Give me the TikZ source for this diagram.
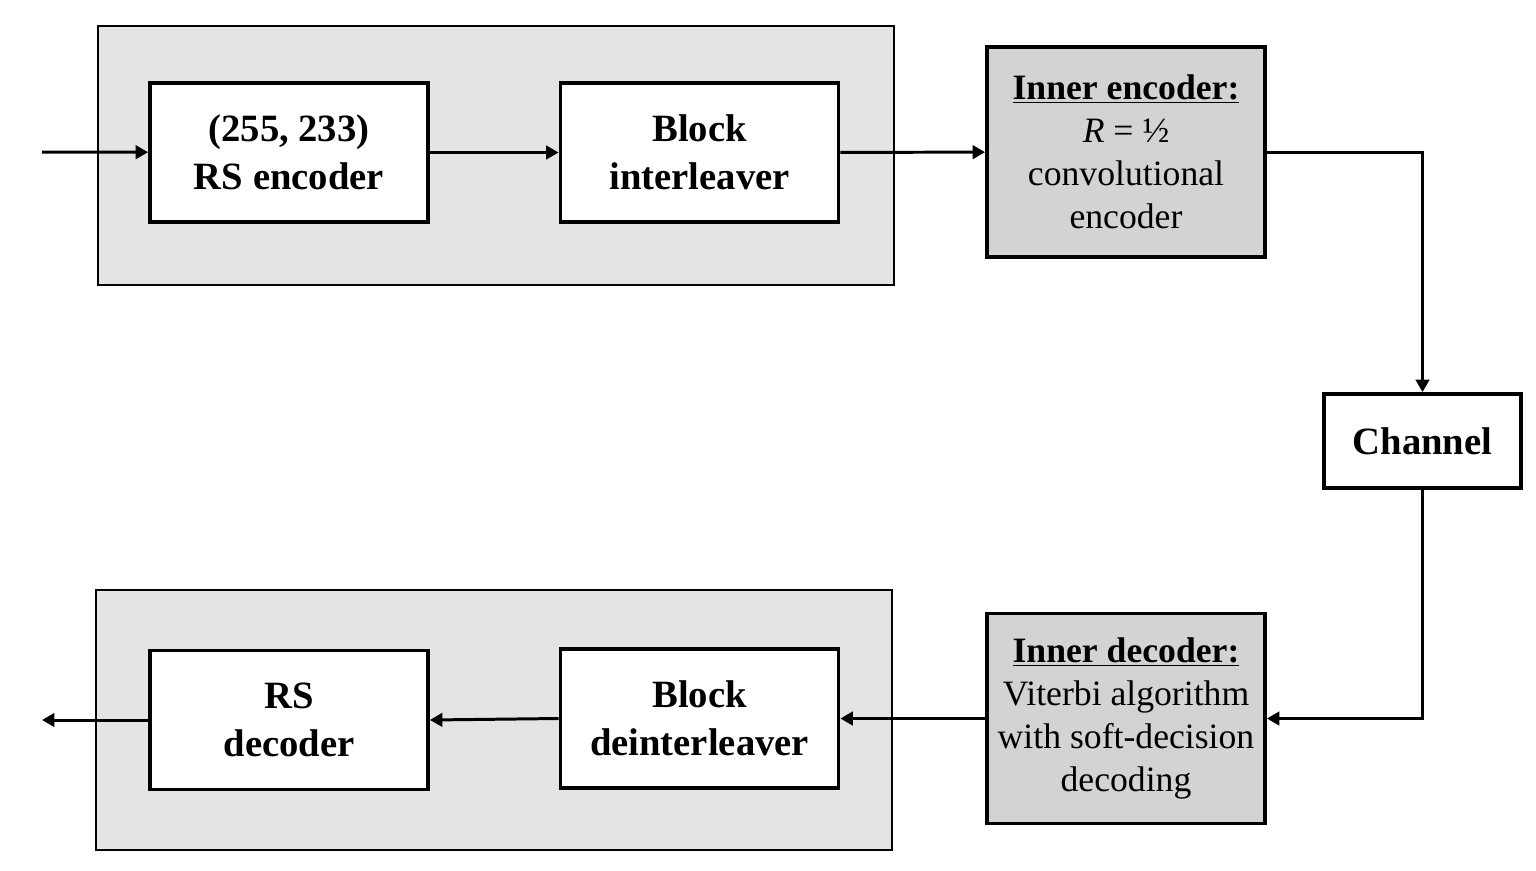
\documentclass[tikz,border=0pt]{standalone}
\usepackage{fontspec}
\setmainfont{Liberation Serif}
\usetikzlibrary{arrows.meta}
\definecolor{groupgray}{HTML}{E4E4E4}
\definecolor{innergray}{HTML}{D3D3D3}
\begin{document}
\begin{tikzpicture}[x=0.02cm,y=-0.02cm,
  blk/.style={draw,line width=2.2pt,fill=white,minimum width=5.56cm,minimum height=2.78cm,
    align=center,inner sep=0pt,font=\fontsize{22}{27.5}\selectfont\bfseries},
  innerblk/.style={blk,fill=innergray,minimum height=4.2cm,font=\fontsize{20.3}{24.5}\selectfont},
  groupbox/.style={draw,line width=0.8pt,fill=groupgray},
  conn/.style={line width=1.7pt,-{Triangle[length=0.25cm,width=0.27cm]}}]
\useasboundingbox (0,0) rectangle (1536,870);
% grey groups
\draw [groupbox] (98,26) rectangle (894,285);
\draw [groupbox] (96,590) rectangle (892,850);
% top row
\coordinate (in) at (42,152);
\node [blk] (rsenc) at (289,152.5) {(255, 233)\\RS encoder};
\node [blk] (intl) at (699.5,152.5) {Block\\interleaver};
\node [innerblk] (innenc) at (1126,152) {\textbf{\underline{Inner encoder:}}\\\textit{R} = ½\\convolutional\\encoder};
% channel
\node [blk,minimum width=3.94cm,minimum height=1.88cm] (chan) at (1422.5,441) {Channel};
% bottom row
\node [innerblk] (inndec) at (1126,718.5) {\textbf{\underline{Inner decoder:}}\\Viterbi algorithm\\with soft-decision\\decoding};
\node [blk] (deintl) at (699.5,718.5) {Block\\deinterleaver};
\node [blk] (rsdec) at (289,720) {RS\\decoder};
\coordinate (out) at (42,720);
% connectors
\draw [conn] (in) -- (rsenc);
\draw [conn] (rsenc) -- (intl);
\draw [conn] (intl) -- (innenc);
\draw [conn] (innenc.east) -| (chan.north);
\draw [conn] (chan.south) |- (inndec.east);
\draw [conn] (inndec) -- (deintl);
\draw [conn] (deintl.west) -- (rsdec.east);
\draw [conn] (rsdec) -- (out);
\end{tikzpicture}
\end{document}
